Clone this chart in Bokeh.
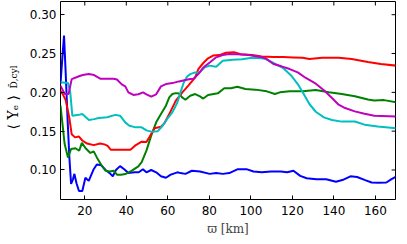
from math import pi
from bokeh.plotting import figure
from bokeh.models import (Range1d, FixedTicker, NumeralTickFormatter, Label)
from bokeh.embed import file_html
from bokeh.resources import INLINE

# ---------------- data ----------------
x_ticks = [20, 40, 60, 80, 100, 120, 140, 160]
y_ticks = [0.10, 0.15, 0.20, 0.25, 0.30]

blue_x = [8.3, 9.2, 10, 10.8, 11.8, 12.6, 13.4, 14.3, 15, 16, 17.2, 18.8, 20.3, 21.9, 24.3, 25.8,
          28, 30, 32, 33.5, 35, 37, 39, 41, 44, 46, 48, 49.7, 52, 54.4, 56.7, 59.1, 61.4, 64.6,
          66.1, 68.5, 71.6, 75.5, 80.2, 83.3, 86.5, 89.6, 93.5, 98.2, 101.3, 105.3, 109.7, 114.4,
          117.5, 120.5, 123.8, 126.9, 131.6, 136.3, 141, 144.1, 148, 151.2, 155.1, 158.2, 161.4,
          165.3, 167.6, 170]
blue_y = [0.211, 0.245, 0.273, 0.225, 0.160, 0.115, 0.082, 0.088, 0.095, 0.083, 0.073, 0.073,
          0.090, 0.086, 0.101, 0.107, 0.106, 0.100, 0.096, 0.092, 0.100, 0.105, 0.101, 0.096,
          0.097, 0.097, 0.101, 0.097, 0.100, 0.097, 0.092, 0.090, 0.094, 0.097, 0.096, 0.095,
          0.099, 0.098, 0.095, 0.096, 0.095, 0.096, 0.1008, 0.1008, 0.098, 0.097, 0.098, 0.098,
          0.097, 0.099, 0.0924, 0.0894, 0.088, 0.088, 0.0848, 0.087, 0.0919, 0.091, 0.087,
          0.0839, 0.0835, 0.0839, 0.088, 0.0916]

green_x = [8.3, 10.3, 11.9, 13.4, 15.5, 17.3, 18.6, 20.4, 22.7, 24.3, 25.8, 28.2, 30, 32, 34,
           35.5, 37.5, 39.5, 42.7, 45.8, 47.4, 49.7, 52, 54.4, 56.7, 59.1, 60.7, 62.2, 63.8,
           65.4, 66.9, 68.5, 70.8, 73.2, 75.5, 77.1, 79.4, 84.1, 87.2, 90.4, 93.5, 97.4, 102.2,
           107.7, 111.6, 114, 118.7, 125, 131.3, 137.6, 143.8, 150.1, 156.4, 159.5, 164.2, 170]
green_y = [0.183, 0.1334, 0.116, 0.127, 0.128, 0.1248, 0.135, 0.128, 0.122, 0.124, 0.1162,
           0.1055, 0.099, 0.098, 0.099, 0.094, 0.094, 0.0948, 0.0991, 0.1047, 0.110, 0.125,
           0.1442, 0.1614, 0.172, 0.1828, 0.1935, 0.1978, 0.199, 0.1985, 0.1935, 0.1905,
           0.1956, 0.1978, 0.1948, 0.192, 0.1965, 0.1987, 0.2052, 0.2052, 0.2073, 0.2043,
           0.2035, 0.2013, 0.1979, 0.200, 0.2013, 0.2013, 0.203, 0.200, 0.1979, 0.195, 0.1907,
           0.1895, 0.190, 0.1871]

red_x = [8.3, 9.5, 10.8, 12.5, 13.7, 15.3, 17.2, 18.8, 21.1, 24.3, 27.4, 29.5, 31, 32.6, 37.3,
         42, 44.2, 47.4, 49.7, 51.3, 53.6, 56.7, 58.3, 60.7, 63.8, 66.9, 70, 73.2, 74.7, 77.1,
         79.4, 81.8, 84.9, 88, 91.9, 95.1, 100.6, 105.3, 110.9, 115.6, 120.3, 125, 128.2, 134.4,
         142.3, 148.6, 156.4, 162.6, 170]
red_y = [0.202, 0.197, 0.190, 0.168, 0.146, 0.142, 0.143, 0.138, 0.134, 0.132, 0.134, 0.133,
         0.131, 0.126, 0.126, 0.126, 0.1313, 0.1365, 0.136, 0.143, 0.1537, 0.1558, 0.160, 0.172,
         0.189, 0.1997, 0.209, 0.2193, 0.230, 0.2378, 0.2438, 0.2473, 0.248, 0.251, 0.2518,
         0.249, 0.248, 0.2463, 0.2455, 0.2455, 0.245, 0.2445, 0.243, 0.2445, 0.2445, 0.243,
         0.239, 0.2365, 0.2344]

cyan_x = [8.3, 11.9, 13, 14, 17.2, 18.8, 22, 24.5, 26.7, 30.8, 34.7, 37, 39.5, 41.5, 44.5, 47.4,
          49.7, 52, 55.2, 57.5, 59.9, 62.2, 64.6, 66.1, 67.7, 69.3, 70.8, 73.2, 75.5, 77.8, 80.2,
          83.3, 86.5, 91.2, 95.8, 100.5, 105.3, 107, 110.9, 115.6, 119.5, 122.6, 125, 128.2,
          131.3, 135.2, 139.1, 143.8, 150.1, 154.8, 161.1, 170]
cyan_y = [0.213, 0.212, 0.200, 0.170, 0.171, 0.172, 0.1645, 0.1655, 0.167, 0.168, 0.171, 0.170,
          0.1613, 0.157, 0.1549, 0.155, 0.151, 0.1494, 0.150, 0.157, 0.1665, 0.1742, 0.187,
          0.1999, 0.2127, 0.2205, 0.2235, 0.2257, 0.226, 0.2322, 0.2344, 0.233, 0.2408, 0.242,
          0.2425, 0.2445, 0.244, 0.243, 0.2378, 0.2313, 0.2215, 0.2107, 0.200, 0.185, 0.175,
          0.1678, 0.1644, 0.1623, 0.1625, 0.1584, 0.1559, 0.1536]

magenta_x = [8.3, 10.3, 12.2, 13.7, 17.2, 19, 21.9, 24.5, 26.6, 27.6, 30.8, 33.9, 35.5, 37.8,
             39.5, 41, 43.4, 45.8, 48.1, 49.7, 52, 54.4, 56.7, 59.1, 62.2, 65.4, 68.5, 70.8,
             72.4, 74.7, 77.1, 80.2, 83.3, 86.5, 89.6, 93.5, 99, 105.3, 107, 110.9, 114.8,
             118.7, 122.6, 126.5, 131.3, 135.2, 139.1, 142.3, 145.4, 150.1, 154.8, 159.5, 170]
magenta_y = [0.2086, 0.198, 0.198, 0.217, 0.2207, 0.2223, 0.2236, 0.2223, 0.219, 0.2175,
             0.2175, 0.2175, 0.2165, 0.2103, 0.2077, 0.200, 0.1966, 0.1975, 0.1999, 0.1975,
             0.1944, 0.1975, 0.2077, 0.2107, 0.2119, 0.2141, 0.2159, 0.2172, 0.2175, 0.2235,
             0.232, 0.2385, 0.2451, 0.2481, 0.2493, 0.249, 0.248, 0.2451, 0.244, 0.2365, 0.2335,
             0.230, 0.2258, 0.2185, 0.2112, 0.2026, 0.1927, 0.1841, 0.1798, 0.1755, 0.1725,
             0.1699, 0.169]

series = [
    (blue_x, blue_y, "#0000ff"),
    (green_x, green_y, "#008000"),
    (red_x, red_y, "#ff0000"),
    (cyan_x, cyan_y, "#00bfbf"),
    (magenta_x, magenta_y, "#bf00bf"),
]

X0, X1 = 8.3, 169.7
Y0, Y1 = 0.062, 0.317
FRAME_W, FRAME_H = 345, 198
TICK_PX = 4

# ---------------- figure ----------------
p = figure(width=396, height=241, output_backend="svg", toolbar_location=None,
           x_range=Range1d(X0, X1), y_range=Range1d(Y0, Y1),
           min_border_left=50, min_border_right=1, min_border_top=1, min_border_bottom=42)
p.grid.visible = False
p.outline_line_color = "black"
p.outline_line_width = 1
p.outline_line_alpha = 1.0
p.background_fill_color = "white"
p.border_fill_color = "white"

for xs, ys, col in series:
    p.line(xs, ys, line_color=col, line_width=2)

# tick marks on the top and right edges (pointing inwards), derived from the tick lists
dy = (Y1 - Y0) * TICK_PX / FRAME_H
dx = (X1 - X0) * TICK_PX / FRAME_W
p.segment(x0=x_ticks, x1=x_ticks, y0=[Y1] * len(x_ticks), y1=[Y1 - dy] * len(x_ticks),
          line_color="black", line_width=1)
p.segment(x0=[X1] * len(y_ticks), x1=[X1 - dx] * len(y_ticks), y0=y_ticks, y1=y_ticks,
          line_color="black", line_width=1)

tick_font = "DejaVu Sans"
for ax, ticks in ((p.xaxis[0], x_ticks), (p.yaxis[0], y_ticks)):
    ax.ticker = FixedTicker(ticks=ticks)
    ax.major_tick_in = TICK_PX
    ax.major_tick_out = 0
    ax.minor_tick_in = 0
    ax.minor_tick_out = 0
    ax.major_tick_line_color = "black"
    ax.axis_line_color = None
    ax.major_label_text_font = tick_font
    ax.major_label_text_font_size = "12px"
    ax.major_label_text_color = "black"

p.xaxis[0].major_label_standoff = 6
p.yaxis[0].major_label_standoff = 4
p.yaxis[0].formatter = NumeralTickFormatter(format="0.00")
p.xaxis[0].axis_label = "ϖ [km]"
p.xaxis[0].axis_label_text_font = "DejaVu Serif"
p.xaxis[0].axis_label_text_font_style = "normal"
p.xaxis[0].axis_label_text_font_size = "12px"
p.xaxis[0].axis_label_standoff = 4

# rotated y-axis label  <Y_e>_{D̄,cyl}
p.add_layout(Label(x=2.5, y=70, x_units="screen", y_units="screen", angle=pi / 2,
                   text="⟨ Yₑ ⟩", text_font="DejaVu Serif", text_font_size="14px",
                   text_align="left", text_baseline="alphabetic", text_color="black"), "left")
p.add_layout(Label(x=13, y=111, x_units="screen", y_units="screen", angle=pi / 2,
                   text="D̄,cyl", text_font="DejaVu Serif", text_font_size="9px",
                   text_align="left", text_baseline="alphabetic", text_color="black"), "left")

open("out.html", "w").write(file_html(p, INLINE))
